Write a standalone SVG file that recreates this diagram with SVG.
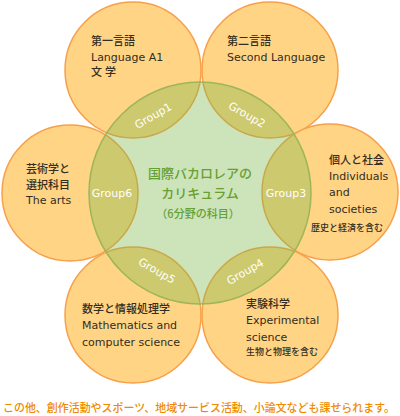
<svg xmlns="http://www.w3.org/2000/svg" width="400" height="416" viewBox="0 0 400 416">
<style>
.petal{fill:#FFD485;stroke:#F7A04A;stroke-width:1.5}
.core{fill:#7CB84A;fill-opacity:0.38;stroke:#9FB55A;stroke-width:1.5}
.t{font-family:"DejaVu Sans","Noto Sans CJK JP",sans-serif;font-size:11px;fill:#332D22}
.jp{font-family:"Noto Sans CJK JP",sans-serif;font-size:11px;font-weight:500;fill:#332D22}
.sm{font-family:"Noto Sans CJK JP",sans-serif;font-size:9px;font-weight:500;fill:#332D22}
.g{font-family:"DejaVu Sans",sans-serif;font-size:11px;fill:#FFFFFF;text-anchor:middle}
.c{font-family:"Noto Sans CJK JP",sans-serif;font-weight:500;fill:#66A032;text-anchor:middle}
.note{font-family:"Noto Sans CJK JP",sans-serif;font-size:11px;font-weight:500;fill:#F08A00}
</style>
<rect width="400" height="416" fill="#FFFFFF"/>
<g id="node-group1">
<circle class="petal" cx="133" cy="70" r="68"/>
<text class="jp" x="91" y="45">第一言語</text>
<text class="t" x="91" y="61">Language A1</text>
<text class="jp" x="91" y="76" letter-spacing="3">文学</text>
</g>
<g id="node-group2">
<circle class="petal" cx="270" cy="70" r="68"/>
<text class="jp" x="227" y="45">第二言語</text>
<text class="t" x="227" y="61">Second Language</text>
</g>
<g id="node-group6">
<circle class="petal" cx="70" cy="193" r="68"/>
<text class="jp" x="26" y="173">芸術学と</text>
<text class="jp" x="26" y="189">選択科目</text>
<text class="t" x="26" y="204">The arts</text>
</g>
<g id="node-group3">
<circle class="petal" cx="330" cy="192" r="68"/>
<text class="jp" x="329" y="164">個人と社会</text>
<text class="t" x="329" y="180">Individuals</text>
<text class="t" x="329" y="196">and</text>
<text class="t" x="329" y="213">societies</text>
<text class="sm" x="311" y="231">歴史と経済を含む</text>
</g>
<g id="node-group5">
<circle class="petal" cx="133" cy="315" r="68"/>
<text class="jp" x="82" y="313">数学と情報処理学</text>
<text class="t" x="82" y="329">Mathematics and</text>
<text class="t" x="82" y="346">computer science</text>
</g>
<g id="node-group4">
<circle class="petal" cx="270" cy="315" r="68"/>
<text class="jp" x="246" y="308">実験科学</text>
<text class="t" x="246" y="324">Experimental</text>
<text class="t" x="246" y="341">science</text>
<text class="sm" x="246" y="355">生物と物理を含む</text>
</g>
<g id="node-center">
<circle class="core" cx="200" cy="193" r="111"/>
<text class="c" x="200" y="178" font-size="13">国際バカロレアの</text>
<text class="c" x="200" y="198" font-size="13">カリキュラム</text>
<text class="c" x="198" y="218" font-size="11">（6分野の科目）</text>
</g>
<g id="group-labels">
<text class="g" transform="translate(155,119) rotate(-30)">Group1</text>
<text class="g" transform="translate(245,118) rotate(30)">Group2</text>
<text class="g" x="112" y="197">Group6</text>
<text class="g" x="286" y="197">Group3</text>
<text class="g" transform="translate(155,274) rotate(30)">Group5</text>
<text class="g" transform="translate(247,275) rotate(-30)">Group4</text>
</g>
<g id="connectors"/>
<g id="footnote">
<text class="note" x="3" y="412" textLength="392" lengthAdjust="spacingAndGlyphs">この他、創作活動やスポーツ、地域サービス活動、小論文なども課せられます。</text>
</g>
</svg>
